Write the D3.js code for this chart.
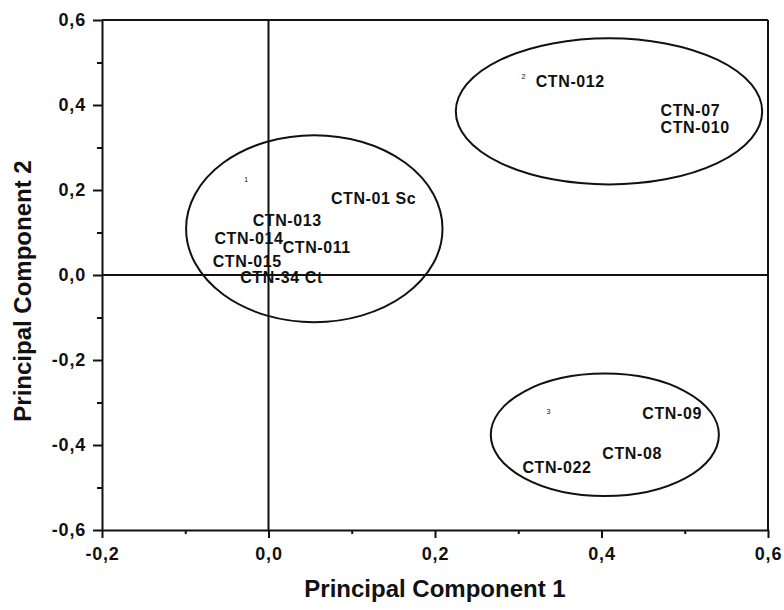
<!DOCTYPE html>
<html lang="en">
<head>
    <meta charset="utf-8">
    <script src="https://cdn.jsdelivr.net/npm/d3@7"></script>
    <style>
        body { margin: 0; background: #fff; }
        text { font-family: "Liberation Sans", Arial, sans-serif; font-weight: bold; fill: #111; }
    </style>
</head>

<body>
<div id="svg"></div>

<script>
    // sample labels (text anchored at its left-middle point)
    var sampleLabels = ["CTN-012", "CTN-07", "CTN-010", "CTN-01 Sc", "CTN-013", "CTN-014",
                        "CTN-011", "CTN-015", "CTN-34 Ct", "CTN-09", "CTN-08", "CTN-022"];
    var pc1 = [0.321, 0.471, 0.471, 0.075, -0.019, -0.065, 0.017, -0.067, -0.034, 0.449, 0.401, 0.305];
    var pc2 = [0.456, 0.388, 0.346, 0.179, 0.129, 0.085, 0.064, 0.031, -0.005, -0.327, -0.419, -0.452];

    // cluster numbers
    var groupIds = ["1", "2", "3"];
    var groupX = [-0.029, 0.304, 0.334];
    var groupY = [0.224, 0.466, -0.322];

    // cluster ellipses (centre and radii, in component units)
    var ellipseCx = [0.055, 0.409, 0.404];
    var ellipseCy = [0.109, 0.385, -0.376];
    var ellipseRx = [0.154, 0.184, 0.137];
    var ellipseRy = [0.220, 0.172, 0.144];

    var xMajor = [-0.2, 0.0, 0.2, 0.4, 0.6];
    var xMinor = [-0.1, 0.1, 0.3, 0.5];
    var yMajor = [-0.6, -0.4, -0.2, 0.0, 0.2, 0.4, 0.6];
    var yMinor = [-0.5, -0.3, -0.1, 0.1, 0.3, 0.5];

    var margin = {top: 20, right: 16, bottom: 80, left: 102},
        width = 784 - margin.left - margin.right,
        height = 610 - margin.top - margin.bottom;

    var svg = d3.select("#svg").append("svg")
        .attr("width", width + margin.left + margin.right)
        .attr("height", height + margin.top + margin.bottom);

    var g = svg.append("g")
        .attr("transform", "translate(" + margin.left + "," + margin.top + ")");

    var x = d3.scaleLinear().domain([-0.2, 0.6]).range([0, width]);
    var y = d3.scaleLinear().domain([-0.6, 0.6]).range([height, 0]);

    var fmt = function(d) { return d3.format(".1f")(d).replace(".", ",").replace("−", "-"); };

    // minor ticks
    g.append("g").attr("transform", "translate(0," + height + ")")
        .call(d3.axisBottom(x).tickValues(xMinor).tickSize(4).tickFormat(""))
        .call(function(a) { a.select(".domain").remove(); });
    g.append("g")
        .call(d3.axisLeft(y).tickValues(yMinor).tickSize(5).tickFormat(""))
        .call(function(a) { a.select(".domain").remove(); });

    // major ticks + labels
    var xAxis = g.append("g").attr("transform", "translate(0," + height + ")")
        .call(d3.axisBottom(x).tickValues(xMajor).tickSize(8).tickSizeOuter(0).tickPadding(9).tickFormat(fmt));
    var yAxis = g.append("g")
        .call(d3.axisLeft(y).tickValues(yMajor).tickSize(9).tickSizeOuter(0).tickPadding(7).tickFormat(fmt));

    [xAxis, yAxis].forEach(function(a) {
        a.select(".domain").attr("stroke", "#111").attr("stroke-width", 2);
        a.selectAll("text").style("font-size", "18px").style("font-family", "'Liberation Sans', Arial, sans-serif")
            .style("font-weight", "bold").style("letter-spacing", "0.8px").attr("fill", "#111");
    });
    g.selectAll(".tick line").attr("stroke", "#111").attr("stroke-width", 2);

    // top and right frame
    g.append("line").attr("x1", 0).attr("x2", width).attr("y1", 0).attr("y2", 0)
        .attr("stroke", "#111").attr("stroke-width", 2);
    g.append("line").attr("x1", width).attr("x2", width).attr("y1", 0).attr("y2", height)
        .attr("stroke", "#111").attr("stroke-width", 2);

    // zero lines
    g.append("line").attr("x1", x(0)).attr("x2", x(0)).attr("y1", 0).attr("y2", height)
        .attr("stroke", "#111").attr("stroke-width", 2);
    g.append("line").attr("x1", 0).attr("x2", width).attr("y1", y(0)).attr("y2", y(0))
        .attr("stroke", "#111").attr("stroke-width", 2);

    // ellipses
    g.selectAll("ellipse")
        .data(d3.range(ellipseCx.length))
    .enter().append("ellipse")
        .attr("cx", function(i) { return x(ellipseCx[i]); })
        .attr("cy", function(i) { return y(ellipseCy[i]); })
        .attr("rx", function(i) { return x(ellipseCx[i] + ellipseRx[i]) - x(ellipseCx[i]); })
        .attr("ry", function(i) { return y(ellipseCy[i]) - y(ellipseCy[i] + ellipseRy[i]); })
        .attr("fill", "none")
        .attr("stroke", "#111")
        .attr("stroke-width", 2);

    // group numbers
    g.selectAll("text.grp")
        .data(d3.range(groupIds.length))
    .enter().append("text")
        .attr("class", "grp")
        .attr("x", function(i) { return x(groupX[i]); })
        .attr("y", function(i) { return y(groupY[i]); })
        .attr("dominant-baseline", "central")
        .style("font-size", "7px")
        .style("font-weight", "normal")
        .text(function(i) { return groupIds[i]; });

    // sample labels
    g.selectAll("text.lbl")
        .data(d3.range(sampleLabels.length))
    .enter().append("text")
        .attr("class", "lbl")
        .attr("x", function(i) { return x(pc1[i]); })
        .attr("y", function(i) { return y(pc2[i]); })
        .attr("dominant-baseline", "central")
        .style("font-size", "16px")
        .style("letter-spacing", "0.6px")
        .text(function(i) { return sampleLabels[i]; });

    // axis titles
    svg.append("text")
        .attr("x", margin.left + width / 2)
        .attr("y", 597)
        .attr("text-anchor", "middle")
        .style("font-size", "24px")
        .text("Principal Component 1");

    svg.append("text")
        .attr("transform", "translate(31," + 291 + ") rotate(-90)")
        .attr("text-anchor", "middle")
        .style("font-size", "24px")
        .text("Principal Component 2");
</script>
</body>
</html>
